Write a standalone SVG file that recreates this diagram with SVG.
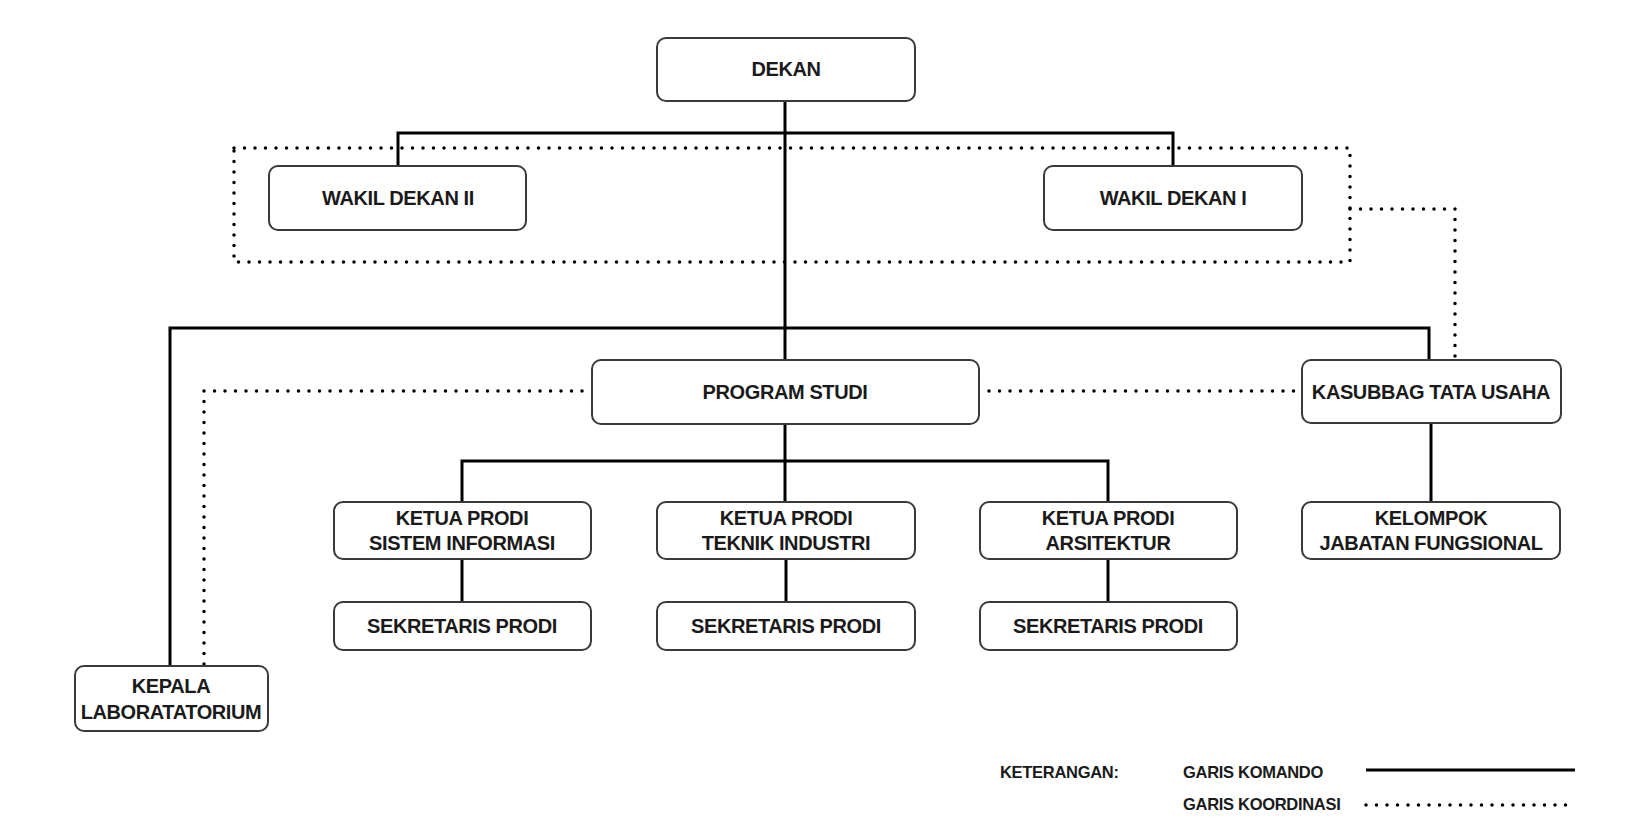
<svg xmlns="http://www.w3.org/2000/svg" width="1637" height="836" viewBox="0 0 1637 836">
<style>
.box{fill:#fff;stroke:#3a3a3a;stroke-width:2}
.t{font-family:"Liberation Sans",Arial,sans-serif;font-weight:bold;font-size:20px;letter-spacing:-0.4px;fill:#1a1a1a;text-anchor:middle}
.lg{font-family:"Liberation Sans",Arial,sans-serif;font-weight:bold;font-size:16.5px;letter-spacing:-0.3px;fill:#1a1a1a}
.cmd{fill:none;stroke:#000;stroke-width:3}
.dot{fill:none;stroke:#000;stroke-width:3.5;stroke-linecap:round;stroke-dasharray:0 10.5}
</style>
<rect width="1637" height="836" fill="#fff"/>
<g id="connectors">
<path class="cmd" d="M785,101 V360"/>
<path class="cmd" d="M398,166 V133 H1173 V166"/>
<path class="cmd" d="M170,666 V328 H1429 V360"/>
<path class="cmd" d="M785,424 V502"/>
<path class="cmd" d="M462,502 V461 H1108 V502"/>
<path class="cmd" d="M462,559 V602"/>
<path class="cmd" d="M786,559 V602"/>
<path class="cmd" d="M1108,559 V602"/>
<path class="cmd" d="M1431,423 V502"/>
<rect class="dot" x="234" y="148" width="1116" height="114"/>
<path class="dot" d="M1350,209 H1455 V360"/>
<path class="dot" d="M582,391 H204 V666"/>
<path class="dot" d="M989,391 H1296"/>
</g>
<g id="dekan"><rect class="box" x="657" y="38" width="258" height="63" rx="9"/><text class="t" x="786" y="76">DEKAN</text></g>
<g id="wakil2"><rect class="box" x="269" y="166" width="257" height="64" rx="9"/><text class="t" x="398" y="205">WAKIL DEKAN II</text></g>
<g id="wakil1"><rect class="box" x="1044" y="166" width="258" height="64" rx="9"/><text class="t" x="1173" y="205">WAKIL DEKAN I</text></g>
<g id="prodi"><rect class="box" x="592" y="360" width="387" height="64" rx="9"/><text class="t" x="785" y="399">PROGRAM STUDI</text></g>
<g id="kasubbag"><rect class="box" x="1302" y="360" width="259" height="63" rx="9"/><text class="t" x="1431" y="399">KASUBBAG TATA USAHA</text></g>
<g id="kp-si"><rect class="box" x="334" y="502" width="257" height="57" rx="9"/><text class="t" x="462" y="525">KETUA PRODI</text><text class="t" x="462" y="550">SISTEM INFORMASI</text></g>
<g id="kp-ti"><rect class="box" x="657" y="502" width="258" height="57" rx="9"/><text class="t" x="786" y="525">KETUA PRODI</text><text class="t" x="786" y="550">TEKNIK INDUSTRI</text></g>
<g id="kp-ar"><rect class="box" x="980" y="502" width="257" height="57" rx="9"/><text class="t" x="1108" y="525">KETUA PRODI</text><text class="t" x="1108" y="550">ARSITEKTUR</text></g>
<g id="kelompok"><rect class="box" x="1302" y="502" width="258" height="57" rx="9"/><text class="t" x="1431" y="525">KELOMPOK</text><text class="t" x="1431" y="550">JABATAN FUNGSIONAL</text></g>
<g id="sek-si"><rect class="box" x="334" y="602" width="257" height="48" rx="9"/><text class="t" x="462" y="633">SEKRETARIS PRODI</text></g>
<g id="sek-ti"><rect class="box" x="657" y="602" width="258" height="48" rx="9"/><text class="t" x="786" y="633">SEKRETARIS PRODI</text></g>
<g id="sek-ar"><rect class="box" x="980" y="602" width="257" height="48" rx="9"/><text class="t" x="1108" y="633">SEKRETARIS PRODI</text></g>
<g id="kepala"><rect class="box" x="75" y="666" width="193" height="65" rx="9"/><text class="t" x="171" y="693">KEPALA</text><text class="t" x="171" y="719">LABORATATORIUM</text></g>
<g id="legend">
<text class="lg" x="1000" y="778">KETERANGAN:</text>
<text class="lg" x="1183" y="778">GARIS KOMANDO</text>
<text class="lg" x="1183" y="810">GARIS KOORDINASI</text>
<path class="cmd" d="M1366,770 H1575"/>
<path class="dot" d="M1366,805 H1575"/>
</g>
</svg>
